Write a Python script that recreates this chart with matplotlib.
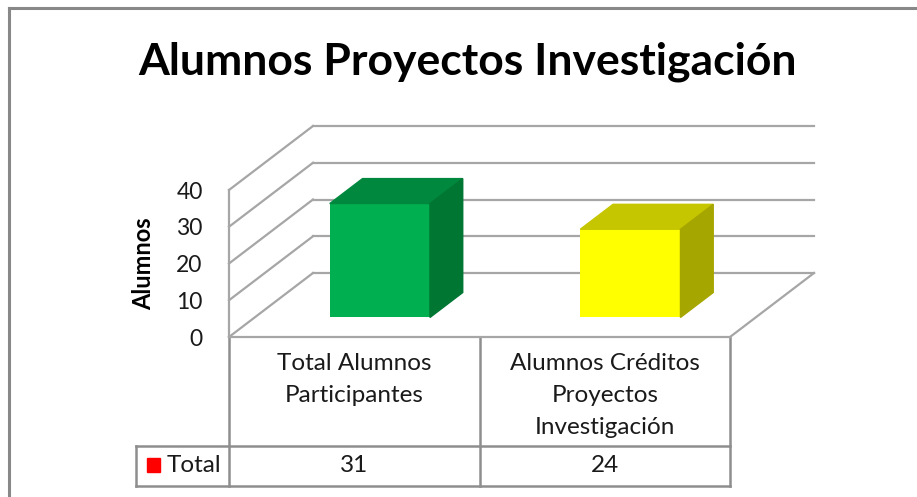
import matplotlib.pyplot as plt
from matplotlib.patches import Polygon, Rectangle

# data
categories = ['Total Alumnos\nParticipantes', 'Alumnos Créditos\nProyectos\nInvestigación']
values = [31, 24]
series_name = 'Total'
y_ticks = [0, 10, 20, 30, 40]
title = 'Alumnos Proyectos Investigación'
y_label = 'Alumnos'

front_colors = ['#00B050', '#FFFF00']
top_colors = ['#00893E', '#C6C600']
side_colors = ['#007633', '#A6A600']
grid_color = '#A6A6A6'
line_color = '#8E8E8E'
text_color = '#1A1A1A'

plt.rcParams['font.family'] = ['Lato', 'DejaVu Sans']

W, H = 917, 497
fig = plt.figure(figsize=(W / 100, H / 100), dpi=100)
fig.patch.set_facecolor('white')

# overlay in pixel units for frame, title and data table
lay = fig.add_axes([0, 0, 1, 1])
lay.set_xlim(0, W)
lay.set_ylim(H, 0)
lay.axis('off')

# front face of the 3-d plot box, in pixels
x0, x1, y0, y1 = 229, 730, 337, 190
n = len(values)
ax = fig.add_axes([x0 / W, 1 - y0 / H, (x1 - x0) / W, (y0 - y1) / H])
ax.patch.set_visible(False)
ax.set_xlim(-0.5, n - 0.5)
ax.set_ylim(0, y_ticks[-1])

# depth of the box in data units
DX = 84 / ((x1 - x0) / n)
DY = 64 / ((y0 - y1) / y_ticks[-1])
xl, xr = -0.5, n - 0.5

for t in y_ticks:
    ax.plot([xl, xl + DX], [t, t + DY], color=grid_color, lw=1.6, clip_on=False, zorder=1)
    ax.plot([xl + DX, xr + DX], [t + DY, t + DY], color=grid_color, lw=1.6, clip_on=False, zorder=1)
ax.plot([xr, xr + DX], [0, DY], color=grid_color, lw=1.6, clip_on=False, zorder=1)

for s in ['top', 'right']:
    ax.spines[s].set_visible(False)
for s in ['left', 'bottom']:
    ax.spines[s].set_color(grid_color)
    ax.spines[s].set_linewidth(1.6)

# bars
d0, d1 = 0.305, 0.695
bw = 0.4
xs = list(range(n))
ax.bar([x + d0 * DX for x in xs], values, width=bw, bottom=d0 * DY,
       color=front_colors, zorder=3, clip_on=False)
ddx, ddy = (d1 - d0) * DX, (d1 - d0) * DY
for x, v, tc, sc in zip(xs, values, top_colors, side_colors):
    l = x - bw / 2 + d0 * DX
    r = x + bw / 2 + d0 * DX
    b = d0 * DY
    ax.add_patch(Polygon([(l, b + v), (r, b + v), (r + ddx, b + v + ddy), (l + ddx, b + v + ddy)],
                         closed=True, color=tc, zorder=3, clip_on=False))
    ax.add_patch(Polygon([(r, b), (r + ddx, b + ddy), (r + ddx, b + v + ddy), (r, b + v)],
                         closed=True, color=sc, zorder=3, clip_on=False))

ax.set_xticks([])
ax.set_yticks(y_ticks)
ax.tick_params(axis='y', length=0, pad=19, labelsize=16.5, labelcolor=text_color)
ax.set_ylabel(y_label, fontsize=17, fontweight='bold', color='black', labelpad=15)

# title
lay.text((143 + 793) / 2, 75, title, ha='center', va='baseline',
         fontsize=32, fontweight='bold', color='black')

# outer frame
lay.plot([9, 9], [8, H], color='#888888', lw=2.2)
lay.plot([9, W], [8, 8], color='#888888', lw=2.2)

# data table
cols = [x0 + i * (x1 - x0) / n for i in range(n + 1)]
row_top, row_mid, row_bot, leg_left = 337, 446, 486, 136
for c in cols:
    lay.plot([c, c], [row_top, row_bot], color=line_color, lw=1.8)
for yy in [row_mid, row_bot]:
    lay.plot([leg_left, x1], [yy, yy], color=line_color, lw=1.8)
lay.plot([leg_left, leg_left], [row_mid, row_bot], color=line_color, lw=1.8)

for i, (cat, v) in enumerate(zip(categories, values)):
    cx = (cols[i] + cols[i + 1]) / 2
    for k, line in enumerate(cat.split('\n')):
        lay.text(cx, 364 + 32 * k, line, ha='center', va='center', fontsize=17.5, color=text_color)
    lay.text(cx, 466, str(v), ha='center', va='center', fontsize=17.5, color=text_color)

lay.add_patch(Rectangle((147, 458), 13, 14, color='#FF0000'))
lay.text(167, 466, series_name, ha='left', va='center', fontsize=17.5, color=text_color)

fig.savefig('out.png', dpi=100)
